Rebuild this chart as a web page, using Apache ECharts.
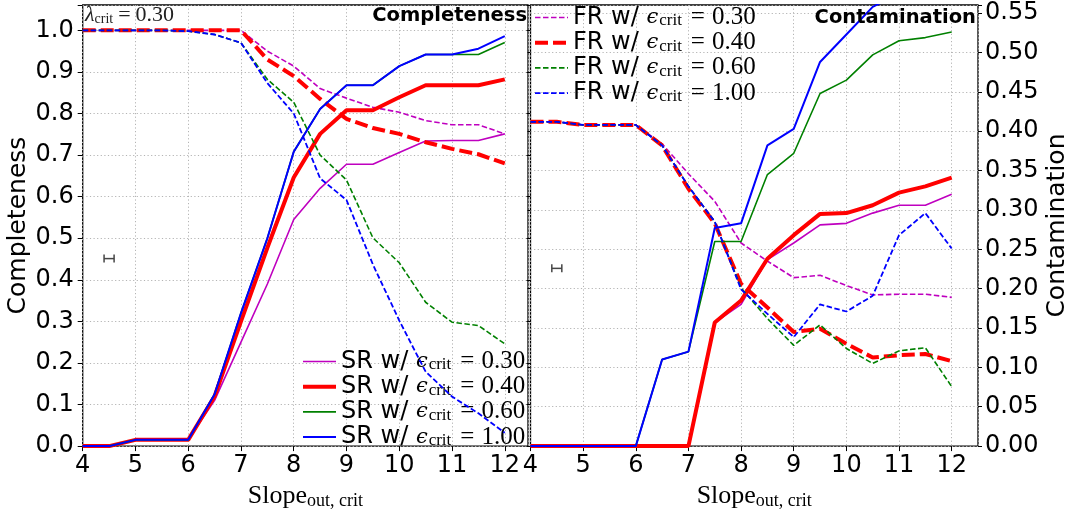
<!DOCTYPE html>
<html>
<head>
<meta charset="utf-8">
<script src="https://cdn.jsdelivr.net/npm/echarts@6/dist/echarts.min.js"></script>
<style>
  html, body { margin: 0; padding: 0; background: #ffffff; }
  #chart { width: 1071px; height: 515px; }
</style>
</head>
<body>
<div id="chart"></div>
<script>
// Threshold on the outer slope (x axis of both panels)
const slopes = [4, 4.5, 5, 5.5, 6, 6.5, 7, 7.5, 8, 8.5, 9, 9.5, 10, 10.5, 11, 11.5, 12];
const epsValues = ['0.30', '0.40', '0.60', '1.00'];

// Completeness, slow-rotator (SR) selection
const srComp030 = [0, 0, 0.015, 0.015, 0.015, 0.11, 0.25, 0.39, 0.545, 0.62, 0.678, 0.678, 0.706, 0.734, 0.735, 0.735, 0.751];
const srComp040 = [0, 0, 0.015, 0.015, 0.015, 0.12, 0.30, 0.477, 0.646, 0.751, 0.808, 0.808, 0.839, 0.868, 0.868, 0.868, 0.882];
const srComp060 = [0, 0, 0.015, 0.015, 0.015, 0.125, 0.32, 0.50, 0.708, 0.811, 0.868, 0.868, 0.914, 0.942, 0.942, 0.942, 0.971];
const srComp100 = [0, 0, 0.015, 0.015, 0.015, 0.125, 0.32, 0.50, 0.708, 0.811, 0.868, 0.868, 0.914, 0.942, 0.942, 0.956, 0.986];

// Completeness, fast-rotator (FR) selection
const frComp030 = [1, 1, 1, 1, 1, 1, 1, 0.95, 0.914, 0.86, 0.837, 0.815, 0.803, 0.783, 0.773, 0.773, 0.751];
const frComp040 = [1, 1, 1, 1, 1, 1, 1, 0.93, 0.89, 0.835, 0.787, 0.765, 0.751, 0.731, 0.715, 0.702, 0.68];
const frComp060 = [1, 1, 1, 1, 0.998, 0.99, 0.97, 0.882, 0.827, 0.70, 0.64, 0.501, 0.441, 0.346, 0.298, 0.29, 0.246];
const frComp100 = [1, 1, 1, 1, 0.998, 0.99, 0.97, 0.873, 0.80, 0.644, 0.592, 0.437, 0.302, 0.179, 0.119, 0.079, 0.032];

// Contamination, SR selection
const srCont030 = [0, 0, 0, 0, 0, 0, 0, 0.157, 0.18, 0.237, 0.258, 0.281, 0.283, 0.296, 0.306, 0.306, 0.32];
const srCont040 = [0, 0, 0, 0, 0, 0, 0, 0.157, 0.185, 0.238, 0.268, 0.295, 0.296, 0.306, 0.322, 0.330, 0.341];
const srCont060 = [0, 0, 0, 0, 0, 0.11, 0.12, 0.26, 0.26, 0.345, 0.372, 0.448, 0.465, 0.497, 0.515, 0.519, 0.526];
const srCont100 = [0, 0, 0, 0, 0, 0.11, 0.12, 0.277, 0.283, 0.382, 0.403, 0.488, 0.523, 0.558, 0.575, 0.58, 0.59];

// Contamination, FR selection
const frCont030 = [0.412, 0.412, 0.408, 0.408, 0.408, 0.384, 0.346, 0.311, 0.258, 0.235, 0.214, 0.217, 0.204, 0.192, 0.193, 0.193, 0.189];
const frCont040 = [0.412, 0.412, 0.408, 0.408, 0.408, 0.382, 0.327, 0.283, 0.206, 0.176, 0.145, 0.149, 0.130, 0.1125, 0.1155, 0.117, 0.108];
const frCont060 = [0.412, 0.412, 0.408, 0.408, 0.408, 0.382, 0.33, 0.285, 0.201, 0.162, 0.128, 0.154, 0.124, 0.105, 0.121, 0.125, 0.0756];
const frCont100 = [0.412, 0.412, 0.408, 0.408, 0.408, 0.382, 0.33, 0.285, 0.199, 0.168, 0.1385, 0.18, 0.171, 0.191, 0.268, 0.296, 0.251];

// Representative uncertainty: [x, y, half-width in x]
const errComp = [[4.5, 0.451, 0.095]];
const errCont = [[4.5, 0.2258, 0.095]];

const compTicks = ['0.0', '0.1', '0.2', '0.3', '0.4', '0.5', '0.6', '0.7', '0.8', '0.9', '1.0'];
const contTicks = ['0.00', '0.05', '0.10', '0.15', '0.20', '0.25', '0.30', '0.35', '0.40', '0.45', '0.50', '0.55'];

const colors = ['#bf00bf', '#ff0000', '#008000', '#0000ff'];
const solidWidth = [1.6, 4, 1.6, 2];
const dashWidth = [1.6, 4, 1.6, 1.8];
const dashPattern = [[5.5, 2.5], [13, 5], [5.5, 2.5], [5.5, 2.5]];

const srComp = [srComp030, srComp040, srComp060, srComp100];
const frComp = [frComp030, frComp040, frComp060, frComp100];
const srCont = [srCont030, srCont040, srCont060, srCont100];
const frCont = [frCont030, frCont040, frCont060, frCont100];

const srNames = epsValues.map(e => 'SR ' + e);
const frNames = epsValues.map(e => 'FR ' + e);

const pairs = arr => slopes.map((x, i) => [x, arr[i]]);

const SANS = 'DejaVu Sans';
const SERIF = 'Liberation Serif';

function lineSeries(name, values, k, dashed, xi, yi) {
  return {
    name: name,
    type: 'line',
    xAxisIndex: xi,
    yAxisIndex: yi,
    data: pairs(values),
    symbol: 'none',
    clip: true,
    lineStyle: {
      color: colors[k],
      width: dashed ? dashWidth[k] : solidWidth[k],
      type: dashed ? dashPattern[k] : 'solid',
      cap: 'butt'
    },
    itemStyle: { color: colors[k] },
    emphasis: { disabled: true },
    z: 2 + k
  };
}

function errSeries(data, xi, yi) {
  return {
    type: 'custom',
    xAxisIndex: xi,
    yAxisIndex: yi,
    data: data,
    z: 10,
    renderItem: function (params, api) {
      const x = api.value(0), y = api.value(1), e = api.value(2);
      const a = api.coord([x - e, y]);
      const b = api.coord([x + e, y]);
      const h = 4;
      const st = { stroke: '#454545', lineWidth: 1.5 };
      return {
        type: 'group',
        children: [
          { type: 'line', shape: { x1: a[0], y1: a[1], x2: b[0], y2: b[1] }, style: st },
          { type: 'line', shape: { x1: a[0], y1: a[1] - h, x2: a[0], y2: a[1] + h }, style: st },
          { type: 'line', shape: { x1: b[0], y1: b[1] - h, x2: b[0], y2: b[1] + h }, style: st }
        ]
      };
    }
  };
}

const series = [];
for (let k = 0; k < 4; k++) {
  series.push(lineSeries(srNames[k], srComp[k], k, false, 0, 0));
  series.push(lineSeries(frNames[k], frComp[k], k, true, 0, 0));
}
for (let k = 0; k < 4; k++) {
  series.push(lineSeries(srNames[k], srCont[k], k, false, 1, 1));
  series.push(lineSeries(frNames[k], frCont[k], k, true, 1, 1));
}
series.push(errSeries(errComp, 0, 0));
series.push(errSeries(errCont, 1, 1));

const gridLine = { show: true, lineStyle: { color: '#b4b4b4', width: 1, type: [1.2, 2.4] } };

function onStep(v, step) {
  const q = v / step;
  return Math.abs(q - Math.round(q)) < 1e-6;
}

function xAxis(gi, max) {
  return {
    type: 'value', gridIndex: gi, min: 4, max: max, interval: 1,
    axisLine: { show: false },
    axisTick: { show: true, inside: false, length: 5, lineStyle: { color: '#000', width: 1 } },
    axisLabel: {
      show: true, margin: 8, color: '#000', fontFamily: SANS, fontSize: 24,
      showMaxLabel: false,
      formatter: v => (onStep(v, 1) ? String(Math.round(v)) : '')
    },
    splitLine: gridLine,
    name: '{a|Slope}{s|out, crit}',
    nameLocation: 'middle',
    nameGap: 31,
    nameTextStyle: {
      rich: {
        a: { fontFamily: SERIF, fontSize: 26, color: '#000', lineHeight: 28, verticalAlign: 'middle' },
        s: { fontFamily: SERIF, fontSize: 18, color: '#000', lineHeight: 6, verticalAlign: 'bottom' }
      }
    }
  };
}

const legendRich = {
  a: { fontFamily: SANS, fontSize: 24, color: '#000', lineHeight: 24, verticalAlign: 'middle' },
  e: { fontFamily: 'DejaVu Serif', fontStyle: 'italic', fontSize: 21, color: '#000', lineHeight: 24, verticalAlign: 'middle', padding: [0, 1, 0, 0] },
  s: { fontFamily: SERIF, fontSize: 17, color: '#000', lineHeight: 8, verticalAlign: 'bottom' },
  q: { fontFamily: SERIF, fontSize: 25, color: '#000', lineHeight: 24, verticalAlign: 'middle', padding: [0, 7, 0, 9] },
  b: { fontFamily: SERIF, fontSize: 25, color: '#000', lineHeight: 24, verticalAlign: 'middle' }
};

function legend(names, prefix, dashed, left, top) {
  return {
    data: names.map((n, k) => ({
      name: n,
      lineStyle: {
        color: colors[k],
        width: dashed ? dashWidth[k] : solidWidth[k],
        type: dashed ? dashPattern[k] : 'solid'
      }
    })),
    orient: 'vertical',
    left: left,
    top: top,
    itemWidth: 33,
    itemHeight: 12,
    itemGap: 0.2,
    padding: 0,
    selectedMode: false,
    itemStyle: { opacity: 0 },
    formatter: name => '{a|' + prefix + ' w/ }{e|ϵ}{s|crit}{q|=}{b|' + name.split(' ')[1] + '}',
    textStyle: { rich: legendRich }
  };
}

const option = {
  animation: false,
  backgroundColor: '#ffffff',
  grid: [
    { left: 82.7, top: 5, width: 445.3, height: 445, show: true, borderColor: '#000', borderWidth: 1.3, backgroundColor: 'transparent' },
    { left: 530.5, top: 5, width: 449.5, height: 445, show: true, borderColor: '#000', borderWidth: 1.3, backgroundColor: 'transparent' }
  ],
  xAxis: [xAxis(0, 12.44), xAxis(1, 12.5)],
  yAxis: [
    {
      type: 'value', gridIndex: 0, min: 0, max: 1.061, interval: 0.1, position: 'left',
      axisLine: { show: false },
      axisTick: { show: true, length: 5, lineStyle: { color: '#000', width: 1 } },
      axisLabel: {
        margin: 9, color: '#000', fontFamily: SANS, fontSize: 24,
        formatter: v => (onStep(v, 0.1) ? compTicks[Math.round(v * 10)] : '')
      },
      splitLine: gridLine,
      name: 'Completeness', nameLocation: 'middle', nameRotate: 90, nameGap: 52,
      nameTextStyle: { fontFamily: SANS, fontSize: 25, color: '#000' }
    },
    {
      type: 'value', gridIndex: 1, min: 0, max: 0.5604, interval: 0.05, position: 'right',
      axisLine: { show: false },
      axisTick: { show: true, length: 4, lineStyle: { color: '#000', width: 1 } },
      axisLabel: {
        margin: 7, color: '#000', fontFamily: SANS, fontSize: 24,
        formatter: v => (onStep(v, 0.05) ? contTicks[Math.round(v * 20)] : '')
      },
      splitLine: gridLine,
      name: 'Contamination', nameLocation: 'middle', nameRotate: 90, nameGap: 67,
      nameTextStyle: { fontFamily: SANS, fontSize: 25, color: '#000' }
    },
    {
      type: 'value', gridIndex: 1, min: 0, max: 1.061, interval: 0.1, position: 'left',
      axisLine: { show: false },
      axisTick: { show: true, length: 4, lineStyle: { color: '#000', width: 1 } },
      axisLabel: { show: false },
      splitLine: { show: false }
    },
    {
      type: 'value', gridIndex: 1, min: 0, max: 0.5604, interval: 0.1, position: 'left',
      axisLine: { show: false },
      axisTick: { show: true, length: 3, lineStyle: { color: '#000', width: 1 } },
      axisLabel: { show: false },
      splitLine: { show: false }
    }
  ],
  legend: [
    legend(srNames, 'SR', false, 301, 349),
    legend(frNames, 'FR', true, 533, 5)
  ],
  graphic: [
    {
      type: 'text', left: 85, top: 4, z: 20,
      style: {
        text: '{l|λ}{s|crit}{q|=}{b|0.30}',
        rich: {
          l: { fontFamily: SERIF, fontStyle: 'italic', fontSize: 22, fill: '#222', lineHeight: 22, verticalAlign: 'middle' },
          s: { fontFamily: SERIF, fontSize: 14, fill: '#222', lineHeight: 6, verticalAlign: 'bottom' },
          q: { fontFamily: SERIF, fontSize: 22, fill: '#222', lineHeight: 22, verticalAlign: 'middle', padding: [0, 5, 0, 5] },
          b: { fontFamily: SERIF, fontSize: 22, fill: '#222', lineHeight: 22, verticalAlign: 'middle' }
        }
      }
    },
    {
      type: 'text', right: 1071 - 527, top: 6, z: 20,
      style: { text: 'Completeness', fontFamily: SANS, fontWeight: 'bold', fontSize: 19.5, fill: '#000' }
    },
    {
      type: 'text', right: 1071 - 976, top: 8, z: 20,
      style: { text: 'Contamination', fontFamily: SANS, fontWeight: 'bold', fontSize: 19.5, fill: '#000' }
    }
  ],
  series: series
};

const chart = echarts.init(document.getElementById('chart'), null, { renderer: 'canvas' });
chart.setOption(option);
</script>
</body>
</html>
